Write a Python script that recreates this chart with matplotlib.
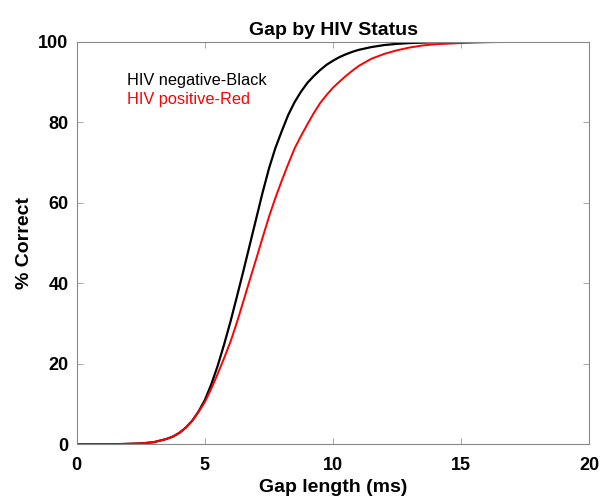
import matplotlib
matplotlib.use("Agg")
import matplotlib.pyplot as plt

plt.rcParams['font.family'] = ['Liberation Sans', 'DejaVu Sans']

gap_ms = [0, 0.5, 1, 1.5, 2, 2.5, 3, 3.5, 3.75, 4, 4.25, 4.5, 4.75, 5, 5.25, 5.5, 5.75,
          6, 6.25, 6.5, 6.75, 7, 7.25, 7.5, 7.75, 8, 8.25, 8.5, 8.75, 9, 9.25, 9.5,
          9.75, 10, 10.25, 10.5, 10.75, 11, 11.5, 12, 12.5, 13, 13.5, 14, 15, 16, 17,
          18, 19, 20]
hiv_negative = [0, 0, 0, 0, 0.1, 0.2, 0.5, 1.3, 1.9, 2.8, 4.1, 5.8, 8.1, 11.0, 14.9,
                19.5, 24.8, 30.5, 36.7, 43.0, 49.5, 56.0, 62.5, 68.5, 73.6, 77.8, 81.8,
                85.0, 87.6, 89.8, 91.5, 93.0, 94.3, 95.3, 96.2, 96.9, 97.5, 98.0, 98.7,
                99.2, 99.5, 99.7, 99.8, 99.9, 100, 100, 100, 100, 100, 100]
hiv_positive = [0, 0, 0, 0, 0.1, 0.2, 0.5, 1.3, 1.9, 2.8, 4.1, 5.8, 8.0, 10.5, 13.8,
                17.5, 21.4, 25.5, 30.3, 35.5, 40.8, 46.0, 51.3, 56.5, 61.2, 65.5, 69.6,
                73.5, 76.6, 79.5, 82.3, 84.8, 86.8, 88.6, 90.1, 91.5, 92.8, 94.0, 95.8,
                97.0, 97.9, 98.6, 99.1, 99.4, 99.7, 99.9, 100, 100, 100, 100]

fig = plt.figure(figsize=(6, 4.98), dpi=100)
ax = fig.add_axes([0.128, 0.108, 0.854, 0.808])

ax.plot(gap_ms, hiv_negative, color='black', lw=1.6)
ax.plot(gap_ms, hiv_positive, color='#ff0000', lw=1.4)

ax.set_xlim(0, 20)
ax.set_ylim(0, 100)
ax.set_xticks([0, 5, 10, 15, 20])
ax.set_yticks([0, 20, 40, 60, 80, 100])
ax.tick_params(direction='in', top=True, right=True, length=4, width=0.6,
               color='#999999', labelsize=13)
ax.tick_params(axis='x', pad=9)
ax.tick_params(axis='y', pad=6)
for lbl in ax.get_xticklabels() + ax.get_yticklabels():
    lbl.set_fontweight('bold')
for s in ax.spines.values():
    s.set_color('#888888')
    s.set_linewidth(0.8)

ax.set_title('Gap by HIV Status', fontsize=14, fontweight='bold', pad=5)
ax.set_xlabel('Gap length (ms)', fontsize=14, fontweight='bold', labelpad=4)
ax.set_ylabel('% Correct', fontsize=14, fontweight='bold')
ax.yaxis.set_label_coords(-0.086, 0.5)

ax.text(1.95, 90.5, 'HIV negative-Black', color='black', fontsize=11.8, va='center')
ax.text(1.95, 85.6, 'HIV positive-Red', color='#ff0000', fontsize=11.8, va='center')

fig.savefig('out.png', dpi=100)
